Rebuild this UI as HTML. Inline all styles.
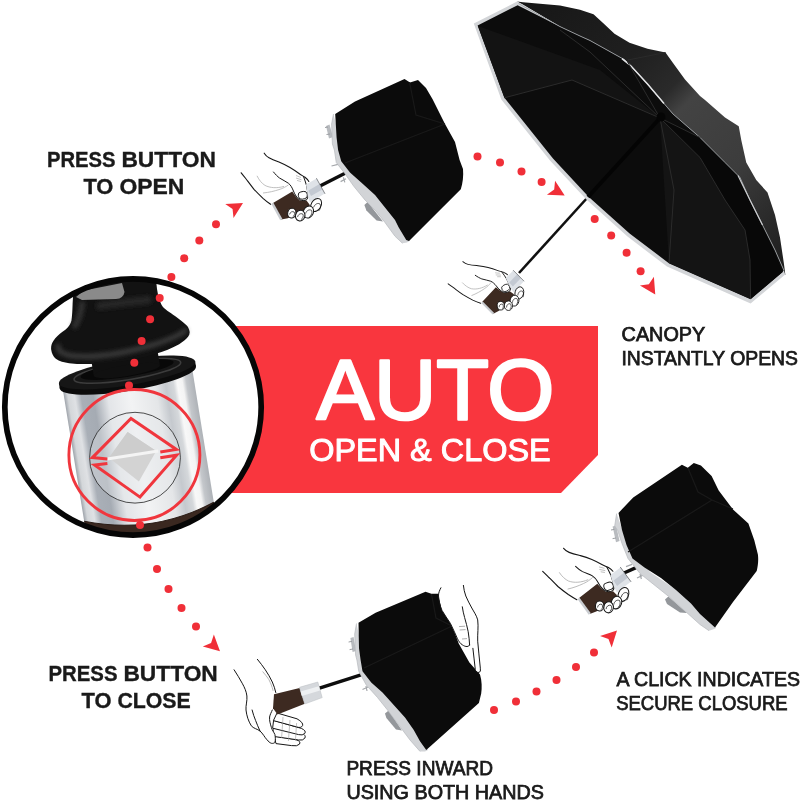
<!DOCTYPE html>
<html>
<head>
<meta charset="utf-8">
<title>Auto Open &amp; Close</title>
<style>
html,body{margin:0;padding:0;background:#fff;}
body{width:800px;height:800px;overflow:hidden;font-family:"Liberation Sans",sans-serif;}
svg{display:block;}
text{font-family:"Liberation Sans",sans-serif;}
svg{filter:opacity(1);}
.b{font-weight:bold;fill:#1a1a1a;stroke:#1a1a1a;stroke-width:0.35;}
.m{font-weight:normal;fill:#1a1a1a;stroke:#1a1a1a;stroke-width:0.75;}
</style>
</head>
<body>
<svg width="800" height="800" viewBox="0 0 800 800">
<defs>
  <linearGradient id="silver" x1="0" y1="0" x2="1" y2="0">
    <stop offset="0" stop-color="#9fa4ab"/>
    <stop offset="0.03" stop-color="#d4d7da"/>
    <stop offset="0.08" stop-color="#dfe1e4"/>
    <stop offset="0.13" stop-color="#a9afb7"/>
    <stop offset="0.22" stop-color="#a5abb3"/>
    <stop offset="0.33" stop-color="#e3e5e8"/>
    <stop offset="0.5" stop-color="#f2f3f4"/>
    <stop offset="0.7" stop-color="#e4e6e8"/>
    <stop offset="0.78" stop-color="#c5c9ce"/>
    <stop offset="0.84" stop-color="#d5d8db"/>
    <stop offset="0.87" stop-color="#f8f8f8"/>
    <stop offset="0.91" stop-color="#f4f4f4"/>
    <stop offset="0.94" stop-color="#c4c7cb"/>
    <stop offset="1" stop-color="#aeb2b7"/>
  </linearGradient>
  <filter id="bl" x="-20%" y="-20%" width="140%" height="140%"><feGaussianBlur stdDeviation="2.2"/></filter>
  <clipPath id="cc"><circle cx="133" cy="407" r="128"/></clipPath>
  <!-- arrowhead pointing +x, tip at origin -->
  <path id="ah" d="M0 0 L-15.8 -8.2 L-12.1 0 L-15.8 8.2 Z" fill="#f02f38"/>
  <!-- gripping hand, drawn in page coords of the top-left instance -->
  <g id="hand">
    <!-- brown grip -->
    <path d="M272.6 203.2 L292.3 191.4 L296 196.8 L299.8 200.6 L306.5 200.6 L309.5 204.5 L310 208 L287.8 218.2 L281.2 219.6 Z" fill="#3d2a21"/>
    <path d="M271.4 204 L273.4 202.8 L282.4 219 L280.2 220.2 Z" fill="#c9ccd0"/>
    <!-- arm lines -->
    <path d="M264.2 153.2 C266 156 267.5 157 269 157.8 C273 160 276 161 279.5 162.3 C283 163.8 286.5 165.5 290 167.5 C293 169.3 296 171.3 299 173.5 C301 175 303.2 176 305 177.3 C306.5 178.5 308 180 308.8 181.4" fill="none" stroke="#161616" stroke-width="1.1" stroke-linecap="round"/>
    <path d="M241.2 172.8 C243 175 244.7 177.2 246.5 179.5 C249 182.8 251.4 186 254 189.3 C257 192.6 260 195.5 263 198.3 C265.5 200.5 268 202.5 270.6 204.3" fill="none" stroke="#161616" stroke-width="1.1" stroke-linecap="round"/>
    <!-- faint inner lines -->
    <path d="M257 175.8 C259 180 262 183.6 265 185.4 C270 188 277 188.4 284 186.4" fill="none" stroke="#b0b0b0" stroke-width="0.8"/>
    <path d="M263 193 C269 192.4 274 191.2 279 189.6 C283 188.4 286 186.6 288.6 184.8" fill="none" stroke="#b0b0b0" stroke-width="0.8"/>
    <path d="M296 175.5 L301 177.5 M296 178 L301.5 179.8 M297 180.4 L301 181.6" fill="none" stroke="#9c9c9c" stroke-width="0.6"/>
    <!-- thumb -->
    <path d="M273.5 172 C275.5 174.5 277.5 176.5 279.5 178 C282.5 180 285.8 181.3 288.5 183.3 C290.6 185 292 187.5 293 190 C294 192.3 294.8 194.3 296 196 C297 197.6 298.3 199 299.8 199.9 C302 200.8 304.8 200.7 306.5 199.8 C307.5 198.8 308 197.4 308 196" fill="none" stroke="#161616" stroke-width="1" stroke-linecap="round"/>
    <path d="M303.5 176.5 C304.6 179.5 305.7 182.5 306.5 185.5 C307.2 189 307.8 192.5 308 196" fill="none" stroke="#161616" stroke-width="1" stroke-linecap="round"/>
    <rect x="298.3" y="191.6" width="9" height="7.4" rx="3.2" ry="3.2" transform="rotate(-12 302.8 195.3)" fill="#fff" stroke="#161616" stroke-width="0.9"/>
    <!-- silver cap -->
    <path d="M306 184.6 L316.6 178.6 L324.8 193.6 L310 202.4 L307.8 196 Z" fill="#dfe3e8"/>
    <path d="M308.4 190.4 L319.6 184 L322.4 189.4 L311 196 Z" fill="#c3c9d2"/>
    <path d="M316.4 178.2 L325 193.8" stroke="#55585c" stroke-width="0.7" fill="none"/>
    <!-- fingers -->
    <g fill="#fff" stroke="#161616" stroke-width="1">
      <ellipse cx="316.1" cy="205" rx="4.9" ry="7" transform="rotate(30 316.1 205)"/>
      <ellipse cx="308.4" cy="212" rx="5" ry="6.2" transform="rotate(25 308.4 212)"/>
      <ellipse cx="300.2" cy="215.6" rx="4.7" ry="5.4" transform="rotate(15 300.2 215.6)"/>
      <ellipse cx="291.8" cy="213.2" rx="4.1" ry="4.9" transform="rotate(10 291.8 213.2)"/>
    </g>
    <g fill="none" stroke="#161616" stroke-width="0.7">
      <path d="M313.6 207.4 C315 204 317.6 202.6 320 204 C321 206 320.6 209 318.6 211"/>
      <path d="M305.6 213.6 C306.4 210.4 309.4 209 311.6 210.4 C312.6 212.6 311.6 215.4 309.4 216.8"/>
      <path d="M297.6 217 C298 214.4 300.6 213 302.8 214 C303.8 216 303 218.4 301 219.6"/>
      <path d="M289.6 214.4 C290 212 292.4 211 294.2 212 C295 213.8 294.4 216 292.6 217"/>
    </g>
  </g>
</defs>

<rect width="800" height="800" fill="#fff"/>

<!-- RED BANNER -->
<path d="M230 326 L598 326 L598 455 L561 493 L230 493 Z" fill="#f9363e"/>
<text x="316.4" y="419.4" font-size="85.5" fill="#fff" stroke="#fff" stroke-width="2.6" stroke-linejoin="round" textLength="238" lengthAdjust="spacingAndGlyphs">AUTO</text>
<text x="309.2" y="461.2" font-size="31.6" fill="#fff" stroke="#fff" stroke-width="1" stroke-linejoin="round" textLength="241.5" lengthAdjust="spacingAndGlyphs">OPEN &amp; CLOSE</text>

<!-- TEXT LABELS -->
<g class="b" font-size="22.2">
<text x="47" y="167.3" textLength="68.6" lengthAdjust="spacingAndGlyphs">PRESS</text>
<text x="121.4" y="167.3" textLength="94.6" lengthAdjust="spacingAndGlyphs">BUTTON</text>
<text x="83.4" y="194.3" textLength="30" lengthAdjust="spacingAndGlyphs">TO</text>
<text x="119.4" y="194.3" textLength="65" lengthAdjust="spacingAndGlyphs">OPEN</text>
<text x="48.5" y="681" textLength="69" lengthAdjust="spacingAndGlyphs">PRESS</text>
<text x="123.4" y="681" textLength="94.4" lengthAdjust="spacingAndGlyphs">BUTTON</text>
<text x="81.6" y="708.4" textLength="30" lengthAdjust="spacingAndGlyphs">TO</text>
<text x="117.4" y="708.4" textLength="73.4" lengthAdjust="spacingAndGlyphs">CLOSE</text>
</g>

<g class="m" font-size="19.3">
<text x="621.6" y="341.2" textLength="83.6" lengthAdjust="spacingAndGlyphs">CANOPY</text>
<text x="621.4" y="365.2" textLength="176.6" lengthAdjust="spacingAndGlyphs">INSTANTLY OPENS</text>
<text x="616.6" y="685.8" textLength="183.4" lengthAdjust="spacingAndGlyphs">A CLICK INDICATES</text>
<text x="616.2" y="709.7" textLength="171.4" lengthAdjust="spacingAndGlyphs">SECURE CLOSURE</text>
<text x="346.4" y="774.8" textLength="146.6" lengthAdjust="spacingAndGlyphs">PRESS INWARD</text>
<text x="346.4" y="798.6" textLength="197.6" lengthAdjust="spacingAndGlyphs">USING BOTH HANDS</text>
</g>
<!-- OPEN UMBRELLA -->
<g id="openumb">
  <defs>
    <linearGradient id="topg" gradientUnits="userSpaceOnUse" x1="540" y1="-10" x2="800" y2="250">
      <stop offset="0" stop-color="#171717"/>
      <stop offset="0.3" stop-color="#1f1f1f"/>
      <stop offset="0.44" stop-color="#2a2a2a"/>
      <stop offset="0.5" stop-color="#434343"/>
      <stop offset="0.72" stop-color="#3c3c3c"/>
      <stop offset="0.86" stop-color="#2c2c2c"/>
      <stop offset="1" stop-color="#1e1e1e"/>
    </linearGradient>
  </defs>
  <!-- shaft -->
  <line x1="588" y1="197" x2="519" y2="273" stroke="#111" stroke-width="2.6"/>
  <!-- top surface (dark grey) -->
  <path d="M517 1.5 L523 2.3 L560 5.4 L580 9.75 L593.5 14.25 L602.5 22.5 L614.5 33.75 L629.5 42.75 L647.5 48.75 L665.5 52.5 L673 63 L685 79.5 L700 96 L705 100 L725 117.5 L738.75 126.25 L741.25 140 L746.25 162.5 L756.25 180 L767.5 192.5 L775 215 L780 237.5 L783.75 262.5 L785.4 275 L760 250 L700 160 L600 50 Z" fill="url(#topg)"/>
  <!-- near rim trim: light grey outer polygon -->
  <path d="M473.8 23.6 L517 1.6 L522 4 L560 26.6 L580 36 L590 40.5 L625 60 L631 66 L647.5 84 L664 103.5 L673 114 L700 137.5 L725 162.5 L740 177.5 L750 200 L762.5 225 L775 250 L783.75 270 L785.2 274.6 L750.6 303.6 L667 266.6 L627.5 236.6 L586.4 199.6 L550.4 161 L501.3 99.6 Z" fill="#d3d5d8"/>
  <!-- underside (black) -->
  <path d="M477.6 25.6 L517.6 5.2 L560 26.6 L580 36 L590 40.5 L625 60 L631 66 L647.5 84 L664 103.5 L673 114 L700 137.5 L725 162.5 L740 177.5 L750 200 L762.5 225 L775 250 L783.75 270 L782.6 272 L750.6 299.2 L669.2 263.4 L629.6 233.6 L588.8 197 L553 158.6 L504.4 97.8 Z" fill="#0c0c0c"/>
  <!-- inner panel shading -->
  <path d="M478 26 L504.4 97.8 L572 80 L660 118 L600 70 Z" fill="#131313"/>
  <path d="M660 118 L669 263 L750.6 299 L750 260 L745 230 L725 200 L700 157.5 Z" fill="#141414"/>
  <path d="M660 118 L700 157.5 L725 200 L745 230 L750 260 L750.6 299 L782.6 272 L762.5 225 L740 177.5 L700 137.5 Z" fill="#080808"/>
  <!-- far rim silver line -->
  <path d="M518.5 3.6 L560 26.6 L580 36 L590 40.5 L625 60 L631 66 L647.5 84 L664 103.5 L673 114 L700 137.5 L725 162.5 L740 177.5 L750 200 L762.5 225 L775 250 L783.75 270" fill="none" stroke="#9da0a4" stroke-width="0.9"/>
  <path d="M622 58.6 L631 66 L647.5 84 L664 103.5" fill="none" stroke="#e4e5e7" stroke-width="1.5"/>
  <path d="M738 175.5 L750 200 L762.5 225" fill="none" stroke="#c9cbce" stroke-width="1.2"/>
  <!-- rib on top surface -->
  <path d="M665.5 52.5 L628 60" fill="none" stroke="#2a2a2a" stroke-width="1"/>
  <!-- ribs -->
  <g stroke="#2b2b2b" stroke-width="1" fill="none">
    <path d="M660 118 L572 80 L504.4 97.8"/>
    <path d="M660 118 L590 52 L560 30"/>
    <path d="M660 118 L627.5 61.8"/>
    <path d="M660 118 L674 190 L669 263"/>
    <path d="M660 118 L700 137.5"/>
    <path d="M660 118 L700 157.5 L725 200 L745 230 L750 260 L750.6 299"/>
  </g>
  <!-- inner shaft over canopy -->
  <line x1="661" y1="117" x2="588" y2="197" stroke="#040404" stroke-width="4"/>
  <circle cx="661" cy="117" r="4.5" fill="#050505"/>
  <use href="#hand" transform="translate(202.2 196.15) rotate(-16) scale(0.88)"/>
</g>
<!-- CLOSED UMBRELLA 1 (top-left) -->
<g id="closed1">
  <!-- shaft -->
  <line x1="319" y1="186.6" x2="347" y2="172.2" stroke="#0d0d0d" stroke-width="3.4"/>
  <!-- clips -->
  <path d="M326 126 L329.5 124.5 L333 137 L329 138.5 Z" fill="#b8bbbf"/>
  <path d="M325 127.5 L328 127 M326.5 134.5 L330 134" stroke="#9b9ea2" stroke-width="1"/>
  <path d="M331.5 166 L338 164.4 M340.6 181.6 L346 178.8 M343.4 177.4 L344.8 182.4" stroke="#a4a7ab" stroke-width="1.2"/>
  <path d="M364.4 205 L367.6 202 L383 221.4 L376.6 220.6 L366.4 210.6 Z" fill="#94979b"/>
  <!-- silver trim -->
  <path d="M333.5 114 L331.6 124 L332.4 144 L334.4 150 L336.25 162.5 L345 173.75 L353.75 186.25 L365 200 L375 210 L385 222.5 L395 236.25 L402.5 243.3 L407 242.6 L409.6 241 L392 212 L352 172 L340 140 Z" fill="#d2d4d7"/>
  <path d="M333.5 114 L331.6 124 L332.4 144 L334.4 150 L336.25 162.5 L345 173.75 L353.75 186.25 L365 200 L375 210 L385 222.5 L395 236.25 L402.5 243.3" fill="none" stroke="#b6b9bd" stroke-width="0.7"/>
  <!-- black canopy -->
  <path d="M335.2 113.9 L355 101.5 L404.5 79 L410 82.4 L418 80 L426 88 L432.6 99.3 L445 124 L455 142 L459.6 160 L463 169 C463.6 176 462.8 183 460.8 189.3 L409 241 L406.25 240 L398.75 227.5 L395 220 L385 207.5 L375 195 L361.25 182.5 L350 172.5 L341.25 161.25 L338.1 150 L336.6 137.5 Z" fill="#0b0b0b"/>
  <!-- folds -->
  <path d="M345 163 L445 124 M409.5 82 L416 115 L445 124" fill="none" stroke="#191919" stroke-width="1.2"/>
  <use href="#hand"/>
</g>
<!-- CLOSED UMBRELLA 4 (bottom-right) -->
<g id="closed4">
  <!-- shaft -->
  <line x1="624" y1="573" x2="636" y2="567.6" stroke="#0d0d0d" stroke-width="3.4"/>
  <!-- clips -->
  <path d="M612.6 526.6 L616 525.4 L619.6 541 L616 542.2 Z" fill="#b8bbbf"/>
  <path d="M611 530 L614.4 529.4 M612.6 538.6 L616 538" stroke="#9b9ea2" stroke-width="1"/>
  <path d="M626 566.6 L632 564.4 M637 578 L642.6 575.4 M640 574 L641.4 579" stroke="#a4a7ab" stroke-width="1.2"/>
  <path d="M665 599.6 L668.4 596.4 L687 613 L680 612.6 L667 604 Z" fill="#94979b"/>
  <!-- silver trim -->
  <path d="M616.6 513.6 L614.7 526 L617.5 530 L622 543.5 L628 558.5 L640 573.5 L655 585.5 L670 597.5 L685 611 L700 624.5 L709 630.7 L713.5 629.2 L716 628 L700 606 L650 572 L626 540 Z" fill="#d2d4d7"/>
  <path d="M616.6 513.6 L614.7 526 L617.5 530 L622 543.5 L628 558.5 L640 573.5 L655 585.5 L670 597.5 L685 611 L700 624.5 L709 630.7" fill="none" stroke="#b6b9bd" stroke-width="0.7"/>
  <!-- black canopy -->
  <path d="M618.5 512.9 L633.2 497.5 L681.9 464.7 L687.8 467.8 L693.8 463 L700.9 465.4 L711.6 476.1 L718.7 490.4 L733 509.4 L748.4 523.6 L754.3 540.2 L757.9 554.5 C758.6 560 758 566 756.7 571.1 L733 602 L715 627.6 L700 614 L691 603.5 L676 590 L661 578 L644.5 567.5 L632.5 558.5 L626.5 545 L622 530 Z" fill="#0b0b0b"/>
  <path d="M628 552 L712 500 M688 468 L698 492 L712 500 L733 509" fill="none" stroke="#191919" stroke-width="1.2"/>
  <use href="#hand" transform="translate(273.65 426.35) rotate(-7.3) scale(1.03)"/>
</g>

<!-- CLOSED UMBRELLA 3 (bottom) -->
<g id="closed3">
  <!-- shaft -->
  <line x1="319.5" y1="688.2" x2="361" y2="674.8" stroke="#0d0d0d" stroke-width="3.4"/>
  <!-- clips -->
  <path d="M350.4 638 L353.6 637 L356 651 L352.6 652 Z" fill="#b8bbbf"/>
  <path d="M348.6 642 L352 641.4 M349.6 649.6 L353 649" stroke="#9b9ea2" stroke-width="1"/>
  <path d="M362.5 689.5 L368 687 M366 686 L367 691" stroke="#a4a7ab" stroke-width="1.2"/>
  <path d="M385 713.6 L388.6 710.6 L402 730.6 L396 729.6 L386.4 718 Z" fill="#94979b"/>
  <!-- silver trim -->
  <path d="M356.5 623.5 L354.7 634 L355.6 655 L356.9 660 L358.75 671.25 L366.25 685 L377.5 697.5 L387.5 710 L398.75 725 L410 740 L420 751.4 L425 751.4 L428 750 L410 720 L372 680 L362 650 Z" fill="#d2d4d7"/>
  <path d="M356.5 623.5 L354.7 634 L355.6 655 L356.9 660 L358.75 671.25 L366.25 685 L377.5 697.5 L387.5 710 L398.75 725 L410 740 L420 751.4" fill="none" stroke="#b6b9bd" stroke-width="0.7"/>
  <!-- black canopy -->
  <path d="M358.5 622.7 L375.6 612.7 L425.5 591.8 L431.4 593.7 L438.5 593.7 L442 610 L451.6 624.6 L458.7 643.6 L469.4 662.6 L480 674.4 C482 681 482 688 481.2 693.4 L478.9 703 L426.25 750 L420 741.25 L413.75 730 L405 717.5 L393.75 705 L382.5 692.5 L371.25 682.5 L362.5 671.25 L360.6 660 L359 648.3 Z" fill="#0b0b0b"/>
  <path d="M364 668 L452 626 M431.5 594 L436 618 L452 626" fill="none" stroke="#191919" stroke-width="1.2"/>
  <!-- right pressing hand -->
  <path d="M440.9 585 L438.5 596 L442 610.4 L450.4 623.4 L457.5 638.8 L462.3 644.8 L467 646.5 L469.6 645.6 L472.9 648.3 L474 660 L475.3 669.7 L478 672.6 L480.6 671 L480 665 L477.7 641.2 L477.7 619.9 L471.8 608 L465.8 596 L463.4 585 Z" fill="#fff"/>
  <g fill="none" stroke="#161616" stroke-width="1" stroke-linecap="round" stroke-linejoin="round">
    <path d="M440.9 587.8 C439.5 590.5 438.4 593 438.5 596 C439 601 440 606 442 610.4 C444.4 615 447.8 619 450.4 623.4 C453.2 628.4 455 633.8 457.5 638.8 C458.8 641.4 460.3 643.6 462.3 644.8 C464 646 465.6 646.6 467 646.5 C468.4 646.4 469.3 646 469.6 644.6"/>
    <path d="M463.4 585.4 C463.8 589 464.5 592.6 465.8 596 C467.4 600.2 469.8 604 471.8 608 C474 612 476.6 615.6 477.7 619.9 C478.6 627 477.4 634 477.7 641.2 C478 649.2 479.6 657 480 665 C480.2 667 480.5 669.4 480.4 671 C479.8 672.4 478.4 672.8 477 672.2 C475.8 671.4 475.4 670.6 475.3 669.7 C474.4 662.6 473.8 655.4 472.9 648.3"/>
    <path d="M462.3 606.8 C462.8 610.4 463.6 614 464.6 617.5 C465.8 622.2 467.4 627 468.2 631.7 C469 636.4 469.4 641.2 469.6 645"/>
  </g>
  <path d="M459 626.6 L465 626.2 M459.6 630 L465.6 629.6 M462 639 L467 638.6" stroke="#8a8a8a" stroke-width="0.7" fill="none"/>
  <!-- left open hand: fingers -->
  <g fill="#fff" stroke="#161616" stroke-width="1" stroke-linejoin="round">
    <path d="M274 736 L296 739.6 Q301.4 741.4 299.4 744.2 Q297.4 746.6 291.5 745.6 L276 743.6 Z"/>
    <path d="M273 728 L301.4 733 Q306.6 735.4 304.8 738.2 Q303 740.8 298.6 740 L273.4 736.4 Z"/>
    <path d="M273.6 720.4 L301.4 728.4 Q306.6 730.8 304.8 733.4 Q302.6 735.8 298.6 734.6 L272.6 728.2 Z"/>
    <path d="M277 713 L297 718.8 Q303.6 722.6 302.6 725.6 Q301 728.4 297 727 L273.4 720.6 Z"/>
  </g>
  <path d="M283 717 L281.6 738 M290 720 L288.4 741 M296.6 723 L295.4 741" stroke="#9a9a9a" stroke-width="0.6" fill="none"/>
  <!-- palm / thumb white cover -->
  <path d="M234.1 669.8 L242.5 683.8 L246.9 696 L246 710 L251.3 725.8 L260 731 L267 739.8 L271.4 743.3 L274.9 742.4 L275.2 736 L272 727.5 L270 717 L273 708 L276 693 L272.3 682 L265.3 669.8 L257.4 659.3 Z" fill="#fff"/>
  <g fill="none" stroke="#161616" stroke-width="1" stroke-linecap="round" stroke-linejoin="round">
    <path d="M234.1 669.8 C237 674.4 240 679 242.5 683.8 C244.6 687.6 246.4 691.6 246.9 696 C247.4 700.8 245.6 705.4 246 710 C246.6 715.6 248.4 721.2 251.3 725.8 C253.4 728.4 257.4 729 260 731 C262.8 733.4 264.6 737.2 267 739.8 C268.4 741.4 269.8 742.8 271.4 743.3 C272.8 743.6 274.2 743.2 274.9 742.4 C275.6 740 275.4 737.4 274.9 734.5 C273.8 732 272 730 271.4 727.5 C270.4 724 269.2 720.4 269.6 717 C270 714.4 271.4 712.4 272.3 710"/>
    <path d="M257.4 659.3 C260.2 662.6 262.8 666.2 265.3 669.8 C267.8 673.6 270.4 677.8 272.3 682 C273.8 685.4 275 689 275.8 692.5"/>
    <path d="M252.1 710 C253 713.6 254.2 717.2 255.6 720.5 C256.8 723.8 258.4 727.4 260 731"/>
  </g>
  <path d="M262.6 671.5 C264.8 674 266.8 676.6 268.8 679.4 C270.6 683 272.2 686.8 273.1 690.8" fill="none" stroke="#9a9a9a" stroke-width="0.7"/>
  <!-- brown grip -->
  <path d="M274 694.3 L299.6 688 L304.8 703.8 L277.5 714.6 L273 708.3 Z" fill="#3d2a21"/>
  <!-- silver cap -->
  <path d="M299.4 687.3 L317.8 682 L322.2 697.6 L304.7 704 Z" fill="#d5d8dc" stroke="#b9bcc1" stroke-width="0.5"/>
  <path d="M300.6 691.6 L318.8 686.2 L320 690.4 L301.8 696 Z" fill="#eef0f2"/>
</g>

<!-- CIRCLE DETAIL -->
<g id="detail">
  <circle cx="133" cy="407" r="128" fill="#fff"/>
  <g clip-path="url(#cc)">
    <!-- silver cylinder -->
    <g transform="rotate(-9.2 139.8 455)">
      <rect x="74.3" y="374" width="131" height="194" fill="url(#silver)"/>
      <!-- brown band -->
      <path d="M74.3 511.5 Q140 536 205.3 513.5 L205.3 570 L74.3 570 Z" fill="#3a2820"/>
      <path d="M74.3 511.5 Q140 536 205.3 513.5" fill="none" stroke="#2a1c16" stroke-width="1"/>
      <!-- flange disc -->
      <ellipse cx="140.4" cy="376.5" rx="69" ry="13.5" fill="#0b0b0b"/>
      <rect x="71.4" y="371.5" width="138" height="5" fill="#0b0b0b"/>
      <ellipse cx="140.4" cy="371.5" rx="69" ry="13" fill="#161616"/>
      <ellipse cx="141" cy="370" rx="54" ry="9" fill="none" stroke="#3c3c3c" stroke-width="1.6"/>
      <ellipse cx="141" cy="368.5" rx="47" ry="7.4" fill="#080808"/>
      <!-- neck -->
      <rect x="107" y="348" width="67" height="21.5" fill="#101010"/>
      <ellipse cx="140.5" cy="369.5" rx="33.5" ry="5.6" fill="#101010"/>
    </g>
    <!-- knob -->
    <path d="M74 272 L73.4 290 C73.2 296 72.8 300 72.6 304 C72.4 310 72.2 316 71.5 320.5 C70 326 66.5 329 62.5 331.8 C59 334.4 55.6 337.4 53.5 340.8 C51.6 343.6 50.8 346.6 51.2 349.8 C51.8 353.6 53.2 356.6 55.8 358.8 C59.4 361.4 64 362.6 69.2 363.2 C78 364.2 87 364.2 96.2 363.7 C108 363 119 361.8 130 359.9 C141 358 152 355.2 161.5 352 C170 349.2 178 345.6 184 340.8 C187.6 338 190 335 189.6 331.8 C189.2 329 188 326.6 186.2 325 C183 322 179 319 175 316 C170 312.4 164 309.4 161.5 304.8 C159 300 158 294.6 157 289 C156.4 284 156 278 156 272 Z" fill="#121212"/>
    <g filter="url(#bl)">
      <path d="M58 346 C58 352 64 355 74 356 C96 358 126 353 156 344 C168 340 178 336 185 331" fill="none" stroke="#3a3a3a" stroke-width="5" stroke-linecap="round"/>
      <path d="M82 304 C81 312 79 319 75 326" fill="none" stroke="#303030" stroke-width="6" stroke-linecap="round"/>
      <path d="M100 306 C110 304 130 302 148 300" fill="none" stroke="#262626" stroke-width="8" stroke-linecap="round"/>
    </g>
    <!-- grey top of knob -->
    <path d="M76 297 L84 290.5 L122 283 L124.5 292 Q123.5 298.5 116 299 L82 300 Z" fill="#8a8a8a"/>
  </g>
  <!-- button recess -->
  <circle cx="135" cy="457.7" r="45.4" fill="#e9ebed" fill-opacity="0.35" stroke="#222" stroke-width="0.8"/>
  <!-- inner grey diamond -->
  <path d="M109 457.8 L127.6 431.9 L156.2 451 L138.9 481.4 Z" fill="#d3d3d3"/>
  <path d="M109 457.8 L127.6 431.9 L156.2 451 Z" fill="#cdcdcd"/>
  <path d="M107 457.6 L158 449.6 L158.4 452.6 L107.4 460.4 Z" fill="#f4f4f4"/>
  <!-- red diamond chevrons -->
  <g fill="none" stroke="#f0363d" stroke-width="3" stroke-linejoin="miter" stroke-miterlimit="10">
    <path d="M107.4 458.9 L92.4 457.6 L131 418.4 L176.4 449.4 L160.3 452.1"/>
    <path d="M107.4 463.4 L94.6 465 L140 497.1 L176.6 455.2 L160.3 457.8"/>
  </g>
  <!-- red circle -->
  <circle cx="134.4" cy="455" r="65.5" fill="none" stroke="#f0363d" stroke-width="2.9"/>
  <!-- black ring -->
  <circle cx="133" cy="407" r="128.2" fill="none" stroke="#060606" stroke-width="5.7"/>
</g>
<!-- DOTS & ARROWS -->
<g fill="#f02f38">
  <circle cx="129" cy="385.5" r="4"/>
  <circle cx="134.3" cy="362.7" r="4"/>
  <circle cx="141.6" cy="341" r="4"/>
  <circle cx="150.1" cy="319.2" r="4"/>
  <circle cx="159.7" cy="298" r="4"/>
  <circle cx="171.4" cy="277" r="4"/>
  <circle cx="184.2" cy="258.2" r="4"/>
  <circle cx="199.3" cy="240.5" r="4"/>
  <circle cx="216" cy="224.3" r="4"/>
  <circle cx="477.5" cy="156.5" r="4"/>
  <circle cx="500" cy="162.5" r="4"/>
  <circle cx="521.5" cy="171.5" r="4"/>
  <circle cx="541.6" cy="182" r="4"/>
  <circle cx="594.7" cy="218.9" r="4"/>
  <circle cx="611.2" cy="235.4" r="4"/>
  <circle cx="626.6" cy="252.8" r="4"/>
  <circle cx="640.6" cy="271.2" r="4"/>
  <circle cx="140" cy="525" r="4"/>
  <circle cx="147.5" cy="547.5" r="4"/>
  <circle cx="157" cy="569" r="4"/>
  <circle cx="168.5" cy="589" r="4"/>
  <circle cx="181.5" cy="608" r="4"/>
  <circle cx="196" cy="626.5" r="4"/>
  <circle cx="494" cy="710" r="4"/>
  <circle cx="516" cy="701.5" r="4"/>
  <circle cx="536.5" cy="691.5" r="4"/>
  <circle cx="556.5" cy="680" r="4"/>
  <circle cx="576" cy="667" r="4"/>
  <circle cx="594" cy="652.5" r="4"/>
</g>
<use href="#ah" transform="translate(243 203) rotate(-30.4)"/>
<use href="#ah" transform="translate(564.7 195.6) rotate(29.8)"/>
<use href="#ah" transform="translate(655.25 294.6) rotate(58.2)"/>
<use href="#ah" transform="translate(220 651.2) rotate(42.4)"/>
<use href="#ah" transform="translate(617 630.5) rotate(-45.2)"/>

</svg>
</body>
</html>
